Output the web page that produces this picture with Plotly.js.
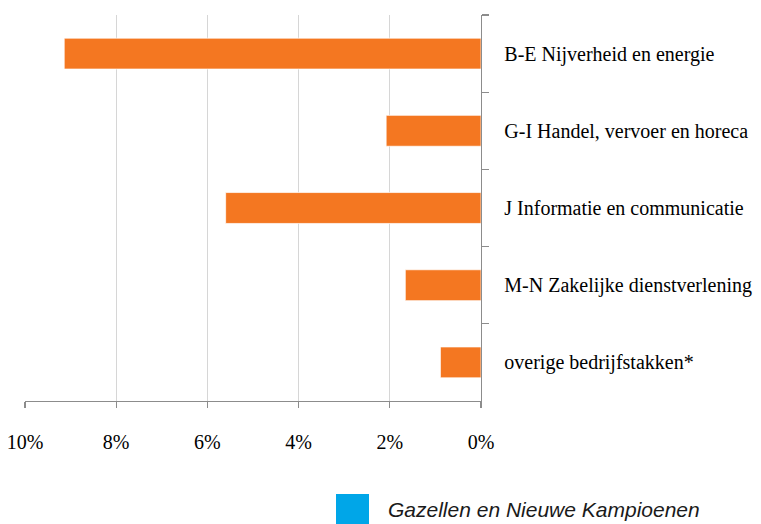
<!DOCTYPE html>
<html>
<head>
<meta charset="utf-8">
<script src="https://cdn.plot.ly/plotly-3.0.1.min.js"></script>
<style>html,body{margin:0;padding:0;background:#fff;} #chart{width:761px;height:524px;}</style>
</head>
<body>
<div id="chart"></div>
<script>
// Data
var categories = [
  "B-E Nijverheid en energie",
  "G-I Handel, vervoer en horeca",
  "J Informatie en communicatie",
  "M-N Zakelijke dienstverlening",
  "overige bedrijfstakken*"
];
var values = [9.14, 2.08, 5.60, 1.66, 0.89];
var xTickValues = [0, 2, 4, 6, 8, 10];
var xTickLabels = ["0%", "2%", "4%", "6%", "8%", "10%"];
var legendName = "Gazellen en Nieuwe Kampioenen";

var trace = {
  type: "bar",
  orientation: "h",
  x: values,
  y: categories,
  marker: { color: "#f47721", line: { color: "rgba(255,255,255,0.7)", width: 1 } },
  name: legendName,
  showlegend: false,
  hoverinfo: "x+y"
};

var L = 25, R = 280, T = 15, B = 123;
var W = 761 - L - R, H = 524 - T - B;
function px(x) { return (x - L) / W; }
function py(y) { return 1 - (y - T) / H; }

var layout = {
  width: 761, height: 524,
  margin: { l: L, r: R, t: T, b: B, pad: 0 },
  paper_bgcolor: "#ffffff",
  plot_bgcolor: "#ffffff",
  bargap: 0.6,
  showlegend: false,
  xaxis: {
    range: [10, 0],
    tickvals: xTickValues,
    ticktext: xTickLabels,
    showgrid: true,
    gridcolor: "#d6d6d6",
    gridwidth: 1.3,
    zeroline: false,
    showline: true,
    linecolor: "#8c8c8c",
    linewidth: 1.3,
    ticks: "outside",
    ticklen: 6,
    tickcolor: "#8c8c8c",
    tickwidth: 1.3,
    ticklabelstandoff: 17,
    tickfont: { family: "Liberation Serif, DejaVu Serif, serif", size: 20, color: "#000" },
    fixedrange: true
  },
  yaxis: {
    type: "category",
    autorange: "reversed",
    side: "right",
    showgrid: false,
    zeroline: false,
    showline: true,
    linecolor: "#8c8c8c",
    linewidth: 1.3,
    ticks: "outside",
    tickson: "boundaries",
    ticklen: 7,
    tickcolor: "#8c8c8c",
    tickwidth: 1.3,
    ticklabelstandoff: 18,
    tickfont: { family: "Liberation Serif, DejaVu Serif, serif", size: 20, color: "#000" },
    fixedrange: true
  },
  shapes: [{
    type: "rect", xref: "paper", yref: "paper",
    x0: px(336), x1: px(369), y0: py(494), y1: py(532),
    fillcolor: "#00a6e8", line: { width: 0 }
  }],
  annotations: [{
    xref: "paper", yref: "paper",
    x: px(386), y: py(510),
    xanchor: "left", yanchor: "middle",
    text: "<i>" + legendName + "</i>",
    showarrow: false,
    font: { family: "Liberation Sans, Arial, sans-serif", size: 21, color: "#1a1a1a" }
  }]
};

Plotly.newPlot("chart", [trace], layout, { displayModeBar: false, staticPlot: true });
</script>
</body>
</html>
